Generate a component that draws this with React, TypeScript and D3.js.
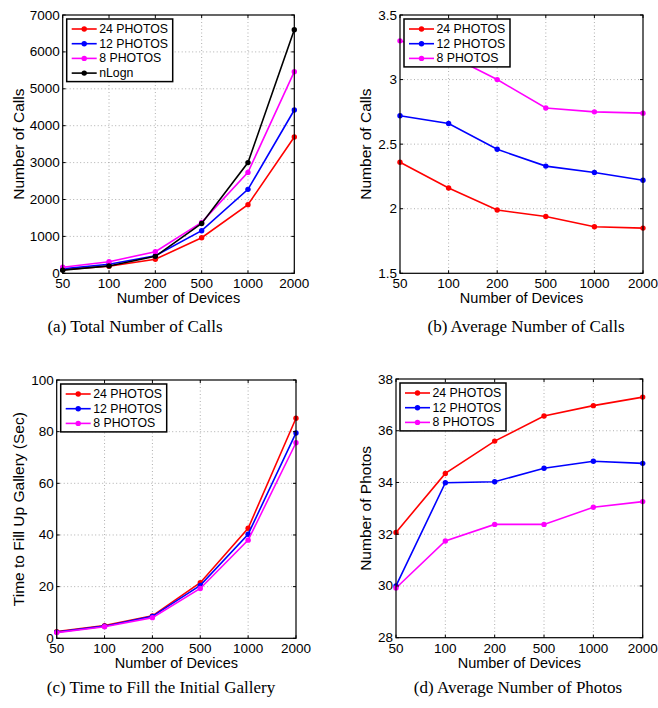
import React from 'react';
import * as d3 from 'd3';

// x categories (number of devices)
const devices = ['50', '100', '200', '500', '1000', '2000'];
const photoSeries = ['24 PHOTOS', '12 PHOTOS', '8 PHOTOS'];
const seriesColors = ['#ff0000', '#0000ff', '#ff00ff', '#000000'];

// (a) total number of calls
const totalCalls24 = [100, 190, 380, 965, 1860, 3695];
const totalCalls12 = [125, 245, 475, 1155, 2275, 4425];
const totalCalls8 = [165, 315, 585, 1380, 2735, 5465];
const totalCallsNLogN = [85, 200, 460, 1349, 3000, 6602];
const totalCallsTicks = [0, 1000, 2000, 3000, 4000, 5000, 6000, 7000];

// (b) average number of calls
const avgCalls24 = [2.36, 2.16, 1.99, 1.94, 1.86, 1.85];
const avgCalls12 = [2.72, 2.66, 2.46, 2.33, 2.28, 2.22];
const avgCalls8 = [3.30, 3.19, 3.00, 2.78, 2.75, 2.74];
const avgCallsTicks = [1.5, 2, 2.5, 3, 3.5];

// (c) time to fill gallery (sec)
const fillTime24 = [2.6, 4.9, 8.7, 21.5, 42.6, 85.2];
const fillTime12 = [2.4, 4.7, 8.5, 20.5, 40.3, 79.5];
const fillTime8 = [2.2, 4.5, 8.0, 19.3, 38.0, 75.7];
const fillTimeTicks = [0, 20, 40, 60, 80, 100];

// (d) average number of photos
const avgPhotos24 = [32.07, 34.35, 35.6, 36.57, 36.97, 37.3];
const avgPhotos12 = [30.0, 33.99, 34.03, 34.55, 34.82, 34.74];
const avgPhotos8 = [29.92, 31.74, 32.38, 32.38, 33.04, 33.26];
const avgPhotosTicks = [28, 30, 32, 34, 36, 38];

const SANS = '"Liberation Sans", Arial, Helvetica, sans-serif';
const SERIF = '"Liberation Serif", "Times New Roman", serif';

type Series = { name: string; values: number[]; color: string };

type PanelProps = {
  left: number; right: number; top: number; bottom: number;
  yTicks: number[];
  yLabel: string; yLabelX: number;
  series: Series[];
  caption: string; captionX: number; captionY: number;
};

function Panel(p: PanelProps) {
  const x = d3.scalePoint<string>().domain(devices).range([p.left, p.right]);
  const y = d3.scaleLinear()
    .domain([p.yTicks[0], p.yTicks[p.yTicks.length - 1]])
    .range([p.bottom, p.top]);
  const line = d3.line<number>()
    .x((d, i) => x(devices[i]) as number)
    .y(d => y(d));
  const tickLen = 3;
  const midY = (p.top + p.bottom) / 2;
  const midX = (p.left + p.right) / 2;

  const legLeft = p.left + 4;
  const legTop = p.top + 4;
  const rowH = 14.7;
  const legH = 10 + rowH * (p.series.length - 1) + 8.5;

  return (
    <g>
      {/* grid */}
      {devices.slice(1, -1).map(d => (
        <line key={'gx' + d} x1={x(d)} x2={x(d)} y1={p.top} y2={p.bottom}
          stroke="#9a9a9a" strokeWidth={0.8} strokeDasharray="1,2.5" />
      ))}
      {p.yTicks.slice(1, -1).map(t => (
        <line key={'gy' + t} x1={p.left} x2={p.right} y1={y(t)} y2={y(t)}
          stroke="#9a9a9a" strokeWidth={0.8} strokeDasharray="1,2.5" />
      ))}
      {/* data */}
      {p.series.map(s => (
        <g key={s.name}>
          <path d={line(s.values) || ''} fill="none" stroke={s.color} strokeWidth={1.6} />
          {s.values.map((v, i) => (
            <circle key={i} cx={x(devices[i])} cy={y(v)} r={2.7} fill={s.color} />
          ))}
        </g>
      ))}
      {/* frame and ticks */}
      <rect x={p.left} y={p.top} width={p.right - p.left} height={p.bottom - p.top}
        fill="none" stroke="#000" strokeWidth={1.2} />
      {devices.map(d => (
        <g key={'tx' + d}>
          <line x1={x(d)} x2={x(d)} y1={p.bottom} y2={p.bottom - tickLen} stroke="#000" />
          <line x1={x(d)} x2={x(d)} y1={p.top} y2={p.top + tickLen} stroke="#000" />
          <text x={x(d)} y={p.bottom + 10.5} textAnchor="middle" dominantBaseline="central"
            fontFamily={SANS} fontSize={13.5}>{d}</text>
        </g>
      ))}
      {p.yTicks.map(t => (
        <g key={'ty' + t}>
          <line x1={p.left} x2={p.left + tickLen} y1={y(t)} y2={y(t)} stroke="#000" />
          <line x1={p.right} x2={p.right - tickLen} y1={y(t)} y2={y(t)} stroke="#000" />
          <text x={p.left - 3} y={y(t)} textAnchor="end" dominantBaseline="central"
            fontFamily={SANS} fontSize={13.5}>{String(t)}</text>
        </g>
      ))}
      {/* axis titles */}
      <text x={midX} y={p.bottom + 25} textAnchor="middle" dominantBaseline="central"
        fontFamily={SANS} fontSize={14.5}>Number of Devices</text>
      <text transform={`translate(${p.yLabelX},${midY}) rotate(-90)`} textAnchor="middle"
        dominantBaseline="central" fontFamily={SANS} fontSize={15.5}>{p.yLabel}</text>
      {/* legend */}
      <rect x={legLeft} y={legTop} width={106} height={legH} fill="#fff" stroke="#000" strokeWidth={1.5} />
      {p.series.map((s, i) => {
        const ry = legTop + 10 + i * rowH;
        return (
          <g key={'leg' + s.name}>
            <line x1={legLeft + 5} x2={legLeft + 30} y1={ry} y2={ry} stroke={s.color} strokeWidth={1.6} />
            <circle cx={legLeft + 17.5} cy={ry} r={2.7} fill={s.color} />
            <text x={legLeft + 32.5} y={ry} dominantBaseline="central"
              fontFamily={SANS} fontSize={12.3}>{s.name}</text>
          </g>
        );
      })}
      {/* caption */}
      <text x={p.captionX} y={p.captionY} textAnchor="middle" dominantBaseline="central"
        fontFamily={SERIF} fontSize={17}>{p.caption}</text>
    </g>
  );
}

function mk(names: string[], arrs: number[][]): Series[] {
  return arrs.map((v, i) => ({ name: names[i], values: v, color: seriesColors[i] }));
}

export default function App() {
  return (
    <svg width={658} height={708} style={{ position: 'absolute', left: 0, top: 0, background: '#fff' }}>
      <rect width={658} height={708} fill="#fff" />
      <Panel left={62.7} right={294.3} top={15} bottom={273.3}
        yTicks={totalCallsTicks} yLabel="Number of Calls" yLabelX={18}
        series={mk([...photoSeries, 'nLogn'], [totalCalls24, totalCalls12, totalCalls8, totalCallsNLogN])}
        caption="(a) Total Number of Calls" captionX={135} captionY={326} />
      <Panel left={400} right={643} top={15} bottom={273.3}
        yTicks={avgCallsTicks} yLabel="Number of Calls" yLabelX={365}
        series={mk(photoSeries, [avgCalls24, avgCalls12, avgCalls8])}
        caption="(b) Average Number of Calls" captionX={526} captionY={326} />
      <Panel left={56.7} right={296} top={380} bottom={638.3}
        yTicks={fillTimeTicks} yLabel="Time to Fill Up Gallery (Sec)" yLabelX={18}
        series={mk(photoSeries, [fillTime24, fillTime12, fillTime8])}
        caption="(c) Time to Fill the Initial Gallery" captionX={161} captionY={687} />
      <Panel left={396} right={642.7} top={379} bottom={637.7}
        yTicks={avgPhotosTicks} yLabel="Number of Photos" yLabelX={365}
        series={mk(photoSeries, [avgPhotos24, avgPhotos12, avgPhotos8])}
        caption="(d) Average Number of Photos" captionX={518} captionY={687} />
    </svg>
  );
}
